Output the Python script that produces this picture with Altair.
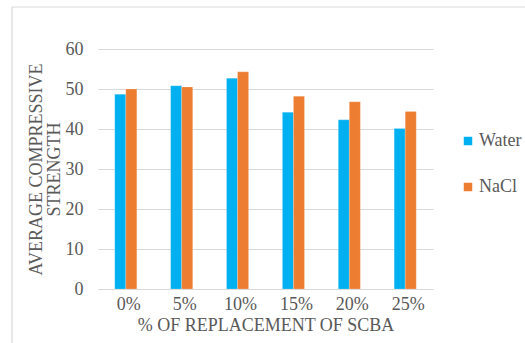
import altair as alt
import pandas as pd

categories = ["0%", "5%", "10%", "15%", "20%", "25%"]
water = [48.7, 50.8, 52.7, 44.2, 42.3, 40.1]
nacl = [50.0, 50.5, 54.3, 48.2, 46.8, 44.4]
series = ["Water", "NaCl"]
colors = ["#00B0F0", "#ED7D31"]

rows = []
for c, w, n in zip(categories, water, nacl):
    rows.append({"cat": c, "series": "Water", "value": w})
    rows.append({"cat": c, "series": "NaCl", "value": n})
df = pd.DataFrame(rows)

FONT = "Times New Roman, Liberation Serif, serif"
GRAY = "#595959"

bars = alt.Chart(df).mark_bar(stroke="#ffffff", strokeOpacity=0.4, strokeWidth=0.5).encode(
    x=alt.X("cat:N", sort=categories,
            scale=alt.Scale(paddingInner=0.605, paddingOuter=0.3),
            axis=alt.Axis(title="% OF REPLACEMENT OF SCBA", labelAngle=0,
                          labelPadding=6, labelOffset=3, titlePadding=3, titleFontSize=18,
                          ticks=False, domainColor="#D9D9D9", domainWidth=1)),
    xOffset=alt.XOffset("series:N", sort=series, scale=alt.Scale(paddingInner=0)),
    y=alt.Y("value:Q", scale=alt.Scale(domain=[0, 60]),
            axis=alt.Axis(title=["AVERAGE COMPRESSIVE", "STRENGTH"], values=[0, 10, 20, 30, 40, 50, 60],
                          labelPadding=15, titleAngle=270, titleBaseline="top",
                          titleX=-71, titleY=120, titleAlign="center", titleLineHeight=18,
                          ticks=False, domain=False, gridColor="#D9D9D9", gridWidth=1)),
    color=alt.Color("series:N", sort=series,
                    scale=alt.Scale(domain=series, range=colors),
                    legend=alt.Legend(title=None, orient="none", legendX=361, legendY=83,
                                      symbolType="square", symbolSize=72, symbolStrokeWidth=0,
                                      rowPadding=28, labelOffset=2)),
)

border_left = alt.Chart(pd.DataFrame({"a": [0]})).mark_rule(color="#D9D9D9", strokeWidth=1.2, clip=False).encode(
    x=alt.value(-86), y=alt.value(-42), y2=alt.value(300)
)
border_top = alt.Chart(pd.DataFrame({"a": [0]})).mark_rule(color="#D9D9D9", strokeWidth=1.2, clip=False).encode(
    x=alt.value(-86), x2=alt.value(440), y=alt.value(-42)
)

chart = alt.layer(bars, border_left, border_top).properties(
    width=335, height=240,
    autosize=alt.AutoSizeParams(type="none"),
    padding={"left": 98, "top": 49, "right": 92, "bottom": 54},
    background="white",
).configure(font=FONT).configure_view(stroke=None).configure_axis(
    labelFont=FONT, labelFontSize=18, labelColor=GRAY,
    titleFont=FONT, titleFontSize=18, titleColor=GRAY, titleFontWeight="normal",
).configure_legend(
    labelFont=FONT, labelFontSize=18, labelColor=GRAY,
)

chart.save("out.html", embed_options={"renderer": "svg", "actions": False})
